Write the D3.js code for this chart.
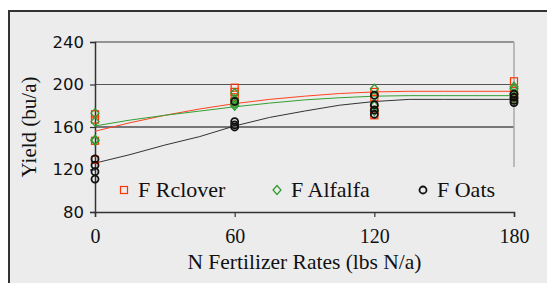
<!DOCTYPE html>
<html>
<head>
<meta charset="utf-8">
<script src="https://cdn.jsdelivr.net/npm/d3@7"></script>
<style>
  html, body { margin: 0; padding: 0; background: #fff; }
  svg { display: block; }
</style>
</head>
<body>
<div id="chart"></div>
<script>
// tick values
const xTicks = [0, 60, 120, 180];
const yTicks = [80, 120, 160, 200, 240];
const gridLines = [160, 200];

// observed yields (4 reps per rate)
const rates = [0, 60, 120, 180];
const rclover = [[172, 167, 147, 129], [197, 193, 188, 184], [193, 188, 176, 171], [203, 194, 190, 186]];
const alfalfa = [[173, 165, 148, 147], [192, 186, 182, 180], [196, 189, 180, 175], [198, 196, 191, 187]];
const oats = [[130, 124, 118, 111], [184, 165, 162, 160], [190, 181, 176, 172], [191, 188, 185, 183]];

// fitted response lines
const fitX = [0, 15, 30, 45, 60, 75, 90, 105, 120, 135, 150, 165, 180];
const fitRclover = [156, 164, 171, 177, 182, 186, 189, 191.5, 193, 193.6, 193.6, 193.6, 193.6];
const fitAlfalfa = [161, 166.5, 171, 175, 179, 182.5, 185.5, 187.5, 189, 189.5, 189.5, 189.5, 189.5];
const fitOats = [126, 134, 143, 151, 161, 169, 175, 180.5, 184, 186, 186, 186, 186];

const seriesNames = ["F Rclover", "F Alfalfa", "F Oats"];

const width = 547, height = 283;
const serif = "Liberation Serif, Times New Roman, serif";

const svg = d3.select("#chart").append("svg")
  .attr("width", width)
  .attr("height", height);

// chart area background + border
svg.append("rect")
  .attr("x", 9).attr("y", 11)
  .attr("width", width + 10).attr("height", height + 10)
  .attr("fill", "#ececec")
  .attr("stroke", "#333")
  .attr("stroke-width", 2);

const x = d3.scaleLinear().domain([0, 180]).range([95, 514]);
const y = d3.scaleLinear().domain([80, 240]).range([212, 42]);

// gridlines
svg.append("g").selectAll("line")
  .data(gridLines)
  .join("line")
  .attr("x1", x(0)).attr("x2", x(180))
  .attr("y1", d => y(d)).attr("y2", d => y(d))
  .attr("stroke", d => d == 160 ? "#000" : "#555")
  .attr("stroke-width", 1.2);

// top and right plot border
svg.append("line")
  .attr("x1", x(0)).attr("x2", x(180))
  .attr("y1", y(240)).attr("y2", y(240))
  .attr("stroke", "#777").attr("stroke-width", 1.5);
svg.append("line")
  .attr("x1", x(180)).attr("x2", x(180))
  .attr("y1", y(240)).attr("y2", 167)
  .attr("stroke", "#aaa").attr("stroke-width", 1.5);

// axes
const yAxis = d3.axisLeft(y).tickValues(yTicks).tickSize(5).tickPadding(6).tickFormat(d3.format("d"));
const gy = svg.append("g")
  .attr("transform", "translate(" + x(0) + ",0)")
  .call(yAxis);
gy.select(".domain").attr("stroke", "#333").attr("stroke-width", 1.5);
gy.selectAll(".tick line").attr("stroke", "#333").attr("stroke-width", 1.2);
gy.selectAll(".tick text")
  .attr("font-family", "DejaVu Sans, sans-serif")
  .attr("font-size", 16.5)
  .attr("fill", "#111");

const xAxis = d3.axisBottom(x).tickValues(xTicks).tickSize(5).tickPadding(12).tickFormat(d3.format("d"));
const gx = svg.append("g")
  .attr("transform", "translate(0," + y(80) + ")")
  .call(xAxis);
gx.select(".domain").attr("stroke", "#333").attr("stroke-width", 1.5);
gx.selectAll(".tick line").attr("stroke", "#333").attr("stroke-width", 1.2);
gx.selectAll(".tick text")
  .attr("font-family", serif)
  .attr("font-size", 20)
  .attr("fill", "#111");

// axis titles
svg.append("text")
  .attr("x", (x(0) + x(180)) / 2)
  .attr("y", 269)
  .attr("text-anchor", "middle")
  .attr("font-family", serif)
  .attr("font-size", 21.5)
  .attr("fill", "#111")
  .text("N Fertilizer Rates (lbs N/a)");

svg.append("text")
  .attr("transform", "translate(36,127) rotate(-90)")
  .attr("text-anchor", "middle")
  .attr("font-family", serif)
  .attr("font-size", 21)
  .attr("fill", "#111")
  .text("Yield (bu/a)");

// fitted lines
const line = d3.line().x(d => x(d[0])).y(d => y(d[1]));
const fits = [
  { vals: fitRclover, color: "#ff4422" },
  { vals: fitAlfalfa, color: "#33a033" },
  { vals: fitOats, color: "#333" }
];
fits.forEach(f => {
  svg.append("path")
    .datum(fitX.map((v, i) => [v, f.vals[i]]))
    .attr("d", line)
    .attr("fill", "none")
    .attr("stroke", f.color)
    .attr("stroke-width", 1);
});

// marker drawing helpers
function square(g, cx, cy, color) {
  g.append("rect")
    .attr("x", cx - 3.5).attr("y", cy - 3.5)
    .attr("width", 7).attr("height", 7)
    .attr("fill", "none").attr("stroke", color).attr("stroke-width", 1.2);
}
function diamond(g, cx, cy, color) {
  g.append("path")
    .attr("d", "M" + cx + "," + (cy - 4.5) + "L" + (cx + 4) + "," + cy + "L" + cx + "," + (cy + 4.5) + "L" + (cx - 4) + "," + cy + "Z")
    .attr("fill", "none").attr("stroke", color).attr("stroke-width", 1.2);
}
function circle(g, cx, cy, color) {
  g.append("circle")
    .attr("cx", cx).attr("cy", cy).attr("r", 3.5)
    .attr("fill", "none").attr("stroke", color).attr("stroke-width", 1.8);
}

const series = [
  { data: rclover, color: "#ff3300", mark: square },
  { data: alfalfa, color: "#2e9a2e", mark: diamond },
  { data: oats, color: "#111", mark: circle }
];

const pts = svg.append("g");
series.forEach(s => {
  s.data.forEach((reps, i) => {
    reps.forEach(v => s.mark(pts, x(rates[i]), y(v), s.color));
  });
});

// legend
const legendX = [124, 277, 423];
const leg = svg.append("g");
series.forEach((s, i) => {
  s.mark(leg, legendX[i], 190, s.color);
  leg.append("text")
    .attr("x", legendX[i] + 14)
    .attr("y", 197)
    .attr("font-family", serif)
    .attr("font-size", 22)
    .attr("fill", "#111")
    .text(seriesNames[i]);
});
</script>
</body>
</html>
